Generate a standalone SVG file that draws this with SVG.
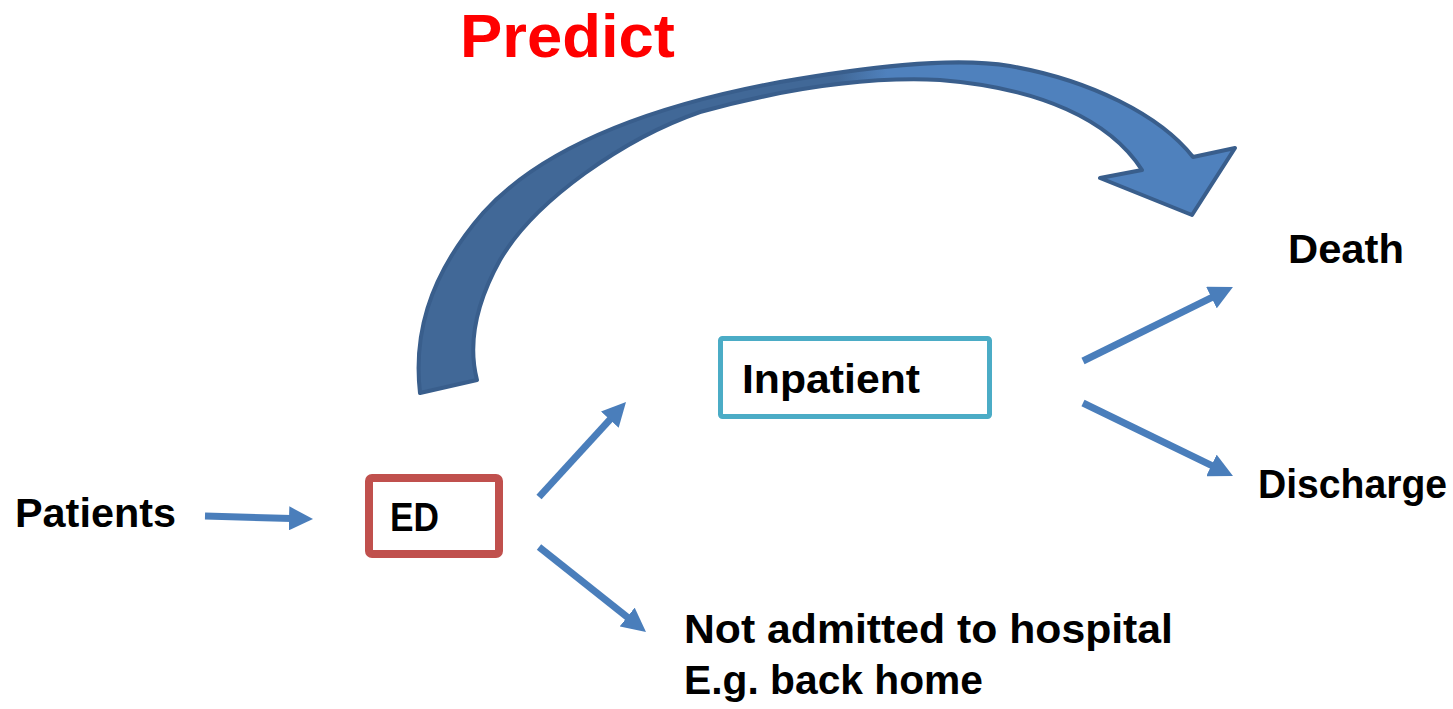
<svg xmlns="http://www.w3.org/2000/svg" width="1453" height="709" viewBox="0 0 1453 709">
  <style>
    .lbl { font-family: "Liberation Sans", Arial, sans-serif; font-weight: bold; font-size: 40px; fill: #000; }
    .title { font-family: "Liberation Sans", Arial, sans-serif; font-weight: bold; font-size: 62px; fill: #ff0000; }
    .conn { stroke: #4a7ebb; stroke-width: 7; fill: none; marker-end: url(#head); }
  </style>
  <defs>
    <marker id="head" markerUnits="userSpaceOnUse" markerWidth="24" markerHeight="24" viewBox="0 0 24 24" refX="12" refY="12" orient="auto">
      <path d="M0,0 L24,12 L0,24 Z" fill="#4a7ebb"/>
    </marker>
    <linearGradient id="bandFill" gradientUnits="userSpaceOnUse" x1="400" y1="0" x2="1240" y2="0">
      <stop offset="0" stop-color="#416897"/>
      <stop offset="0.52" stop-color="#416897"/>
      <stop offset="0.58" stop-color="#4f81bd"/>
      <stop offset="1" stop-color="#4f81bd"/>
    </linearGradient>
  </defs>

  <rect width="1453" height="709" fill="#ffffff"/>

  <g id="predict">
    <path d="M420,393 C414,340 425,280 483,213 C540,150 640,108 780,82 C860,68 950,56 1010,66 C1090,80 1160,115 1193,157 L1235,148 L1192,215 L1100,178 L1142,170 C1110,120 1040,88 940,80 C860,76 780,90 700,112 C625,138 535,200 500,260 C475,305 468,345 477,380 Z" fill="url(#bandFill)" stroke="#395e8c" stroke-width="4" stroke-linejoin="round"/>
    <text class="title" x="460" y="57" textLength="215" lengthAdjust="spacingAndGlyphs">Predict</text>
  </g>

  <g id="patients">
    <text class="lbl" x="15" y="527" textLength="161" lengthAdjust="spacingAndGlyphs">Patients</text>
  </g>

  <g id="ed">
    <rect x="369" y="478" width="130" height="76" rx="3" fill="#ffffff" stroke="#c0504d" stroke-width="8"/>
    <text class="lbl" x="390" y="531" textLength="49" lengthAdjust="spacingAndGlyphs">ED</text>
  </g>

  <g id="inpatient">
    <rect x="720.5" y="338.5" width="269" height="78" rx="2" fill="#ffffff" stroke="#4bacc6" stroke-width="5"/>
    <text class="lbl" x="742" y="393" textLength="178" lengthAdjust="spacingAndGlyphs">Inpatient</text>
  </g>

  <g id="death">
    <text class="lbl" x="1288" y="263" textLength="116" lengthAdjust="spacingAndGlyphs">Death</text>
  </g>

  <g id="discharge">
    <text class="lbl" x="1258" y="498" textLength="189" lengthAdjust="spacingAndGlyphs">Discharge</text>
  </g>

  <g id="not-admitted">
    <text class="lbl" x="684" y="643" textLength="489" lengthAdjust="spacingAndGlyphs">Not admitted to hospital</text>
    <text class="lbl" x="684" y="694" textLength="299" lengthAdjust="spacingAndGlyphs">E.g. back home</text>
  </g>

  <g id="connectors">
    <line class="conn" x1="205" y1="516" x2="301" y2="518.7"/>
    <line class="conn" x1="539" y1="497" x2="617.9" y2="410.8"/>
    <line class="conn" x1="539" y1="547" x2="636.6" y2="624.5"/>
    <line class="conn" x1="1083" y1="361" x2="1222.2" y2="292.3"/>
    <line class="conn" x1="1083" y1="403" x2="1222.2" y2="470.7"/>
  </g>
</svg>
